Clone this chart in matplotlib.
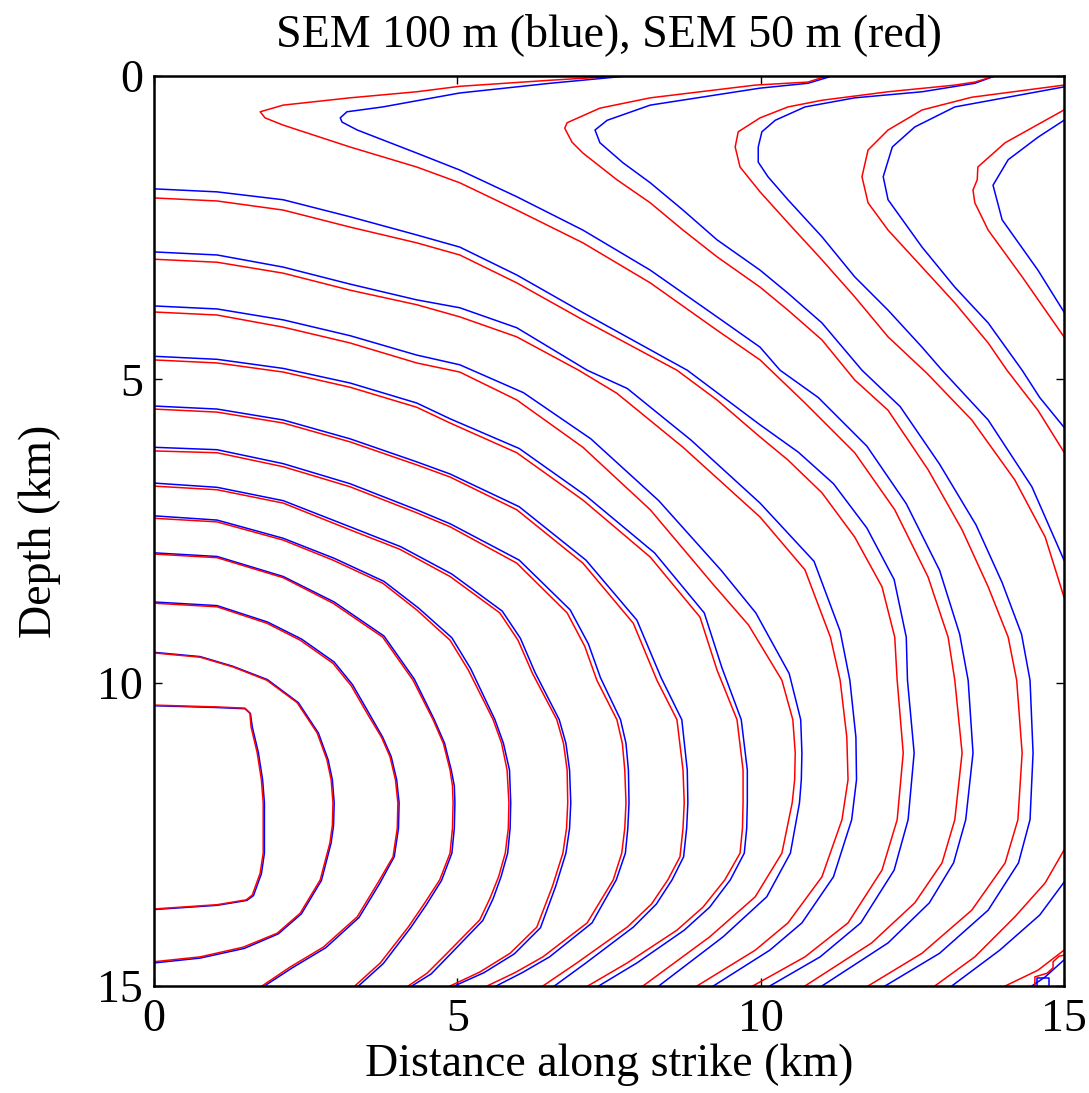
import matplotlib
matplotlib.use("Agg")
import matplotlib.pyplot as plt

# rupture-time contours: (distance along strike km, depth km)
# SEM 50 m (red)
red_r01 = [(0, 10.37), (1.04, 10.40), (1.50, 10.42), (1.58, 10.50), (1.60, 10.73), (1.70, 11.15), (1.77, 11.6),
           (1.80, 11.98), (1.80, 12.81), (1.75, 13.14), (1.62, 13.50), (1.52, 13.58), (1.04, 13.66), (0, 13.73)]
red_r02 = [(0, 9.51), (0.76, 9.58), (1.30, 9.74), (1.86, 9.96), (2.36, 10.33), (2.69, 10.83), (2.85, 11.27),
           (2.92, 11.6), (2.95, 11.98), (2.94, 12.35), (2.90, 12.64), (2.74, 13.25), (2.41, 13.80), (2.03, 14.13),
           (1.47, 14.36), (0.76, 14.52), (0, 14.60)]
red_r03 = [(0, 8.69), (1.04, 8.75), (1.86, 9.02), (2.41, 9.30), (2.95, 9.68), (3.25, 10.05), (3.51, 10.50),
           (3.75, 10.90), (3.89, 11.22), (3.98, 11.6), (4.02, 11.98), (4.01, 12.4), (3.94, 12.87), (3.69, 13.30),
           (3.35, 13.86), (2.79, 14.36), (2.24, 14.69), (1.78, 15.0)]
red_r04 = [(0, 7.88), (1.04, 7.94), (2.13, 8.27), (2.95, 8.69), (3.77, 9.25), (4.27, 9.96), (4.60, 10.61),
           (4.77, 11.0), (4.88, 11.44), (4.92, 11.7), (4.93, 11.98), (4.92, 12.4), (4.88, 12.81), (4.71, 13.25),
           (4.45, 13.65), (4.19, 14.03), (3.73, 14.62), (3.31, 15.0)]
red_r05 = [(0, 7.29), (1.04, 7.35), (2.13, 7.65), (2.95, 7.98), (3.77, 8.36), (4.33, 8.80), (4.88, 9.30),
           (5.18, 9.79), (5.59, 10.61), (5.73, 11.0), (5.82, 11.44), (5.85, 11.98), (5.84, 12.4), (5.79, 12.81),
           (5.68, 13.2), (5.54, 13.55), (5.37, 13.91), (4.83, 14.46), (4.50, 14.79), (4.19, 15.0)]
red_r06 = [(0, 6.76), (1.04, 6.82), (2.13, 7.04), (3.23, 7.48), (4.05, 7.80), (4.88, 8.25), (5.70, 8.85),
           (6.00, 9.30), (6.24, 9.85), (6.64, 10.61), (6.75, 11.0), (6.81, 11.44), (6.82, 11.98), (6.80, 12.4),
           (6.74, 12.81), (6.57, 13.35), (6.31, 14.03), (5.87, 14.46), (5.37, 14.77), (4.88, 15.0)]
red_r07 = [(0, 6.18), (1.04, 6.21), (2.13, 6.44), (3.23, 6.77), (4.33, 7.20), (4.88, 7.43), (5.98, 8.03),
           (6.81, 8.85), (7.10, 9.40), (7.30, 9.96), (7.63, 10.61), (7.72, 11.0), (7.76, 11.44), (7.78, 11.98),
           (7.76, 12.4), (7.71, 12.81), (7.57, 13.25), (7.14, 13.96), (6.41, 14.52), (5.95, 14.78), (5.49, 15.0)]
red_r08 = [(0, 5.49), (1.04, 5.54), (2.13, 5.72), (3.23, 6.03), (4.33, 6.41), (4.88, 6.61), (5.98, 7.15),
           (7.07, 8.03), (7.90, 9.02), (8.29, 9.96), (8.62, 10.61), (8.72, 11.44), (8.74, 11.98), (8.72, 12.4),
           (8.67, 12.87), (8.47, 13.25), (8.20, 13.65), (7.80, 14.03), (6.97, 14.62), (6.41, 15.0)]
red_r09 = [(0, 4.68), (1.04, 4.73), (2.13, 4.88), (3.23, 5.13), (4.33, 5.46), (4.88, 5.72), (5.98, 6.21),
           (7.07, 6.99), (8.18, 7.93), (9.00, 8.92), (9.28, 9.79), (9.61, 10.61), (9.71, 11.44), (9.71, 11.98),
           (9.70, 12.4), (9.66, 12.81), (9.41, 13.25), (9.05, 13.70), (8.62, 14.08), (7.80, 14.62), (7.15, 15.0)]
red_r10 = [(0, 3.89), (1.04, 3.94), (2.13, 4.14), (3.23, 4.40), (4.33, 4.73), (5.04, 4.88), (5.98, 5.34),
           (7.07, 6.12), (8.18, 7.15), (9.20, 8.36), (9.80, 9.05), (10.35, 9.96), (10.53, 10.61), (10.57, 11.16),
           (10.56, 11.6), (10.52, 11.98), (10.35, 12.81), (9.91, 13.53), (9.16, 14.19), (8.06, 15.0)]
red_r11 = [(0, 3.02), (1.04, 3.07), (2.13, 3.25), (3.23, 3.53), (4.33, 3.77), (5.04, 3.97), (5.98, 4.30),
           (7.00, 4.85), (7.63, 5.23), (8.72, 6.12), (9.99, 7.27), (10.73, 8.14), (11.15, 9.25), (11.31, 9.96),
           (11.42, 10.90), (11.44, 11.60), (11.34, 12.26), (11.01, 13.20), (10.45, 13.96), (9.91, 14.41),
           (8.95, 15.0)]
red_r12 = [(0, 2.01), (1.04, 2.06), (2.13, 2.21), (3.23, 2.49), (4.33, 2.75), (5.04, 2.95), (5.98, 3.41),
           (7.07, 4.02), (8.62, 4.85), (9.28, 5.34), (9.99, 5.95), (10.45, 6.33), (11.01, 6.87), (11.55, 7.60),
           (12.00, 8.42), (12.21, 9.25), (12.25, 9.96), (12.35, 11.16), (12.25, 12.26), (12.00, 13.09),
           (11.44, 13.96), (10.73, 14.52), (9.87, 15.0)]
red_r13 = [(7.70, 0), (6.53, 0.07), (5.04, 0.17), (4.33, 0.26), (3.23, 0.36), (2.13, 0.48), (1.75, 0.59),
           (1.83, 0.69), (2.13, 0.81), (3.23, 1.17), (4.33, 1.50), (5.04, 1.76), (5.98, 2.21), (7.07, 2.75),
           (8.18, 3.41), (9.28, 4.19), (9.99, 4.68), (10.73, 5.39), (11.55, 6.21), (12.21, 7.15), (12.76, 8.26),
           (13.09, 9.25), (13.20, 9.96), (13.32, 11.16), (13.20, 12.26), (12.99, 12.97), (12.54, 13.63),
           (11.83, 14.29), (10.73, 15.0)]
red_r14 = [(11.09, 0), (10.78, 0.10), (9.91, 0.15), (8.18, 0.36), (7.35, 0.53), (6.81, 0.77), (6.77, 0.86),
           (6.89, 1.09), (7.07, 1.27), (7.63, 1.71), (8.18, 2.09), (8.72, 2.54), (9.28, 2.98), (9.99, 3.48),
           (10.45, 3.86), (11.01, 4.35), (11.55, 5.01), (12.10, 5.51), (12.76, 6.49), (13.32, 7.48), (13.75, 8.42),
           (14.08, 9.25), (14.22, 9.96), (14.31, 11.16), (14.24, 12.26), (14.03, 12.97), (13.48, 13.75),
           (12.66, 14.46), (11.77, 15.0)]
red_v3 = [(13.86, 0), (13.53, 0.10), (13.20, 0.15), (12.10, 0.26), (11.01, 0.40), (10.45, 0.51), (9.99, 0.69),
          (9.63, 0.92), (9.58, 1.17), (9.66, 1.50), (9.99, 1.91), (10.45, 2.42), (11.01, 3.03), (11.55, 3.64),
          (12.10, 4.30), (12.74, 4.90), (13.48, 5.67), (14.19, 6.66), (14.69, 7.60), (15.0, 8.59)]
red_v4 = [(15.0, 0.15), (13.48, 0.35), (12.66, 0.56), (12.10, 0.89), (11.77, 1.22), (11.67, 1.66), (11.77, 2.09),
          (12.10, 2.54), (12.66, 3.15), (13.20, 3.74), (13.75, 4.40), (14.06, 4.85), (14.57, 5.51), (15.0, 6.20)]
red_v5 = [(15.0, 0.56), (14.03, 1.10), (13.58, 1.50), (13.57, 1.71), (13.50, 1.88), (13.53, 2.09), (13.75, 2.54),
          (14.31, 3.31), (15.0, 4.30)]
red_e1 = [(15.0, 12.76), (14.69, 13.30), (14.19, 13.86), (13.53, 14.52), (12.87, 15.0)]
red_e2 = [(15.0, 14.41), (14.57, 14.74), (14.03, 15.0)]
red_corner = [(14.52, 15.0), (14.52, 14.85), (14.72, 14.79), (14.82, 14.70), (14.82, 14.60), (14.92, 14.51),
              (15.0, 14.49)]

# SEM 100 m (blue)
blue_r01 = [(0, 10.38), (1.04, 10.41), (1.50, 10.43), (1.59, 10.51), (1.62, 10.73), (1.72, 11.15), (1.79, 11.6),
            (1.82, 11.98), (1.82, 12.81), (1.77, 13.15), (1.64, 13.51), (1.53, 13.59), (1.04, 13.67), (0, 13.74)]
blue_r02 = [(0, 9.50), (0.76, 9.57), (1.30, 9.73), (1.87, 9.95), (2.38, 10.33), (2.71, 10.83), (2.87, 11.27),
            (2.94, 11.6), (2.97, 11.98), (2.96, 12.35), (2.92, 12.64), (2.76, 13.26), (2.43, 13.81), (2.05, 14.14),
            (1.49, 14.38), (0.76, 14.54), (0, 14.62)]
blue_r03 = [(0, 8.67), (1.04, 8.73), (1.87, 9.00), (2.43, 9.28), (2.97, 9.66), (3.27, 10.03), (3.53, 10.48),
            (3.77, 10.90), (3.91, 11.22), (4.00, 11.6), (4.04, 11.98), (4.03, 12.4), (3.96, 12.87), (3.72, 13.31),
            (3.38, 13.87), (2.83, 14.37), (2.28, 14.70), (1.82, 15.0)]
blue_r04 = [(0, 7.86), (1.04, 7.92), (2.13, 8.25), (2.97, 8.67), (3.79, 9.23), (4.29, 9.94), (4.62, 10.61),
            (4.79, 11.0), (4.90, 11.44), (4.95, 11.7), (4.96, 11.98), (4.95, 12.4), (4.91, 12.81), (4.74, 13.26),
            (4.49, 13.66), (4.23, 14.04), (3.78, 14.63), (3.37, 15.0)]
blue_r05 = [(0, 7.25), (1.04, 7.32), (2.13, 7.62), (2.97, 7.95), (3.79, 8.33), (4.36, 8.77), (4.91, 9.26),
            (5.22, 9.77), (5.62, 10.61), (5.76, 11.0), (5.86, 11.44), (5.88, 11.98), (5.87, 12.4), (5.83, 12.81),
            (5.72, 13.2), (5.59, 13.56), (5.42, 13.92), (4.89, 14.47), (4.57, 14.80), (4.25, 15.0)]
blue_r06 = [(0, 6.71), (1.04, 6.78), (2.13, 7.00), (3.23, 7.43), (4.07, 7.76), (4.91, 8.21), (5.74, 8.82),
            (6.04, 9.27), (6.28, 9.83), (6.68, 10.61), (6.79, 11.0), (6.85, 11.44), (6.87, 11.98), (6.85, 12.4),
            (6.79, 12.81), (6.62, 13.36), (6.37, 14.04), (5.94, 14.47), (5.44, 14.78), (4.95, 15.0)]
blue_r07 = [(0, 6.12), (1.04, 6.16), (2.13, 6.39), (3.23, 6.72), (4.33, 7.15), (4.88, 7.38), (6.02, 7.98),
            (6.86, 8.80), (7.16, 9.36), (7.36, 9.92), (7.69, 10.61), (7.78, 11.0), (7.82, 11.44), (7.83, 11.98),
            (7.81, 12.4), (7.77, 12.81), (7.62, 13.25), (7.22, 13.96), (6.52, 14.52), (6.07, 14.78), (5.64, 15.0)]
blue_r08 = [(0, 5.44), (1.04, 5.49), (2.13, 5.67), (3.23, 5.98), (4.33, 6.36), (4.88, 6.56), (6.02, 7.10),
            (7.12, 7.98), (7.96, 8.97), (8.36, 9.92), (8.70, 10.61), (8.79, 11.44), (8.80, 11.98), (8.78, 12.4),
            (8.73, 12.87), (8.54, 13.25), (8.28, 13.65), (7.90, 14.03), (7.12, 14.62), (6.60, 15.0)]
blue_r09 = [(0, 4.62), (1.04, 4.67), (2.13, 4.82), (3.23, 5.06), (4.33, 5.39), (4.88, 5.65), (6.02, 6.14),
            (7.12, 6.92), (8.25, 7.86), (9.07, 8.85), (9.36, 9.75), (9.68, 10.61), (9.78, 11.44), (9.78, 11.98),
            (9.77, 12.4), (9.73, 12.81), (9.50, 13.25), (9.16, 13.70), (8.74, 14.08), (7.96, 14.62), (7.33, 15.0)]
blue_r10 = [(0, 3.79), (1.04, 3.84), (2.13, 4.02), (3.23, 4.28), (4.33, 4.60), (5.04, 4.76), (6.09, 5.22),
            (7.20, 5.98), (8.32, 7.00), (9.35, 8.15), (9.92, 8.85), (10.47, 9.85), (10.66, 10.61), (10.68, 11.16),
            (10.67, 11.6), (10.64, 11.98), (10.49, 12.81), (10.10, 13.53), (9.38, 14.19), (8.32, 15.0)]
blue_r11 = [(0, 2.90), (1.04, 2.95), (2.13, 3.15), (3.23, 3.43), (4.33, 3.69), (5.04, 3.82), (5.98, 4.15),
            (7.14, 4.85), (7.80, 5.15), (8.85, 6.00), (9.99, 7.04), (10.88, 8.00), (11.31, 9.15), (11.47, 9.96),
            (11.57, 10.90), (11.58, 11.60), (11.50, 12.26), (11.20, 13.20), (10.68, 13.96), (10.15, 14.41),
            (9.22, 15.0)]
blue_r12 = [(0, 1.86), (1.04, 1.91), (2.13, 2.04), (3.23, 2.32), (4.33, 2.62), (5.04, 2.82), (5.98, 3.28),
            (7.07, 3.90), (8.79, 4.85), (9.99, 5.75), (10.62, 6.20), (11.20, 6.72), (11.75, 7.45), (12.20, 8.30),
            (12.40, 9.25), (12.42, 9.96), (12.53, 11.16), (12.43, 12.26), (12.20, 13.09), (11.65, 13.96),
            (10.98, 14.52), (10.15, 15.0)]
blue_r13 = [(7.80, 0), (6.53, 0.12), (5.04, 0.28), (3.77, 0.51), (3.18, 0.59), (3.07, 0.69), (3.10, 0.76),
            (3.35, 0.89), (4.33, 1.27), (5.04, 1.55), (5.98, 1.99), (7.07, 2.54), (8.18, 3.20), (9.28, 3.97),
            (9.99, 4.47), (10.32, 4.85), (10.95, 5.30), (11.75, 6.10), (12.40, 7.05), (12.95, 8.15), (13.28, 9.20),
            (13.42, 9.96), (13.50, 11.16), (13.38, 12.26), (13.18, 12.97), (12.78, 13.63), (12.10, 14.29),
            (11.01, 15.0)]
blue_r14 = [(11.18, 0), (10.78, 0.12), (9.99, 0.20), (8.18, 0.48), (7.47, 0.73), (7.27, 0.89), (7.35, 1.10),
            (7.73, 1.43), (8.18, 1.76), (8.72, 2.21), (9.28, 2.70), (9.99, 3.20), (10.45, 3.58), (11.01, 4.07),
            (11.67, 4.85), (12.30, 5.45), (12.95, 6.40), (13.55, 7.40), (13.98, 8.35), (14.30, 9.20), (14.44, 9.96),
            (14.49, 11.16), (14.44, 12.26), (14.25, 12.97), (13.75, 13.75), (12.95, 14.46), (12.05, 15.0)]
blue_v3 = [(13.86, 0), (13.53, 0.12), (12.66, 0.26), (11.55, 0.36), (10.73, 0.51), (10.24, 0.73), (10.02, 0.92),
           (9.96, 1.17), (9.96, 1.42), (10.12, 1.66), (10.45, 2.04), (11.01, 2.65), (11.55, 3.31), (12.10, 3.86),
           (12.66, 4.47), (12.99, 4.85), (13.75, 5.67), (14.47, 6.77), (15.0, 7.98)]
blue_v4 = [(15.0, 0.18), (13.20, 0.51), (12.54, 0.84), (12.17, 1.17), (12.02, 1.66), (12.10, 2.04), (12.66, 2.82),
           (13.20, 3.48), (13.75, 4.07), (14.31, 4.85), (14.60, 5.30), (15.0, 5.79)]
blue_v5 = [(15.0, 0.73), (14.57, 1.01), (14.08, 1.38), (13.83, 1.80), (13.98, 2.37), (14.57, 3.20), (15.0, 3.89)]
blue_e1 = [(15.0, 13.29), (14.60, 13.83), (13.94, 14.41), (13.15, 15.0)]
blue_e2 = [(15.0, 14.57), (14.69, 14.85), (14.47, 15.0)]
blue_corner = [(14.55, 15.0), (14.55, 14.86), (14.75, 14.86), (14.75, 14.98)]

red_lines = [red_r01, red_r02, red_r03, red_r04, red_r05, red_r06, red_r07, red_r08, red_r09, red_r10,
             red_r11, red_r12, red_r13, red_r14, red_v3, red_v4, red_v5, red_e1, red_e2, red_corner]
blue_lines = [blue_r01, blue_r02, blue_r03, blue_r04, blue_r05, blue_r06, blue_r07, blue_r08, blue_r09, blue_r10,
              blue_r11, blue_r12, blue_r13, blue_r14, blue_v3, blue_v4, blue_v5, blue_e1, blue_e2, blue_corner]

ticks = [0, 5, 10, 15]

plt.rcParams['font.family'] = ['Liberation Serif', 'DejaVu Serif']

fig = plt.figure(figsize=(10.89, 10.93), dpi=100, facecolor="white")
ax = fig.add_axes([154 / 1089, 1 - 986 / 1093, 910 / 1089, 910 / 1093])

# blue first, red drawn on top
for line in blue_lines:
    ax.plot([p[0] for p in line], [p[1] for p in line], color="#0000ff", lw=1.1)
for line in red_lines:
    ax.plot([p[0] for p in line], [p[1] for p in line], color="#ff0000", lw=1.1)

ax.set_xlim(0, 15)
ax.set_ylim(15, 0)
ax.set_xticks(ticks)
ax.set_yticks(ticks)
ax.set_xticklabels([str(t) for t in ticks])
ax.set_yticklabels([str(t) for t in ticks])

ax.tick_params(direction="in", length=6, width=1, top=True, right=True, labelsize=33)
ax.tick_params(axis="x", pad=9)
ax.tick_params(axis="y", pad=8)
for s in ax.spines.values():
    s.set_linewidth(1.8)

fig.text(609 / 1089, 1 - 1065 / 1093, "Distance along strike (km)", fontsize=33, ha="center", va="center")
fig.text(40 / 1089, 1 - 531 / 1093, "Depth (km)", fontsize=33, ha="center", va="center", rotation=90)
fig.text(609 / 1089, 1 - 35 / 1093, "SEM 100 m (blue), SEM 50 m (red)", fontsize=33, ha="center", va="center")

plt.savefig("out.png", dpi=100)
